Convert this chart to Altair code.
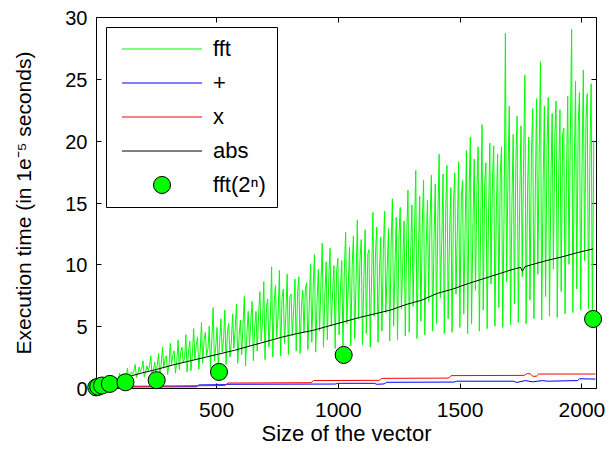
import altair as alt
import pandas as pd

# ---------------- data ----------------
series_names = ["fft", "+", "x", "abs", "fft(2ⁿ)"]
stroke_colors = ["#00ff00", "#0000ff", "#ff0000", "#000000", "#000000"]

# fft timing: peaks (sizes 8,24,...), deep troughs (13,29,...), middle values (19,35,...)
fft_hi = [
    0.25, 0.4, 0.55, 0.6, 0.85, 0.9, 1.2, 1.1,
    1.6, 1.3, 1.9, 1.7, 2.2, 1.8, 2.6, 2.1,
    2.8, 3.3, 2.6, 3.6, 3.0, 3.9, 3.3, 4.3,
    3.8, 4.8, 4.1, 5.3, 4.5, 5.0, 6.5, 4.9,
    5.6, 6.3, 5.2, 6.0, 6.8, 5.5, 7.4, 6.2,
    7.0, 6.2, 7.8, 8.6, 7.2, 9.8, 8.3, 9.5,
    8.0, 9.2, 7.6, 8.8, 9.0, 7.9, 8.5, 10.0,
    10.8, 9.6, 11.7, 10.2, 11.3, 9.9, 10.5, 10.3,
    12.6, 11.4, 12.3, 13.6, 12.0, 12.8, 11.2, 14.2,
    13.0, 12.2, 14.3, 12.9, 15.3, 13.8, 14.6, 13.5,
    16.0, 14.8, 17.6, 15.5, 16.8, 15.2, 17.2, 16.5,
    18.9, 17.3, 18.0, 16.2, 17.4, 18.3, 16.8, 19.2,
    20.3, 18.5, 19.5, 21.3, 18.2, 19.8, 19.6, 18.9,
    19.5, 28.7, 22.8, 20.5, 22.0, 21.2, 25.3, 20.3,
    22.6, 23.4, 26.4, 22.8, 23.5, 22.2, 23.2, 22.5,
    21.0, 23.6, 29.0, 24.8, 23.9, 25.7, 23.8, 24.6,
]
fft_lo = [
    0.15, 0.25, 0.3, 0.45, 0.4, 0.6, 0.55, 0.7,
    0.75, 1.1, 0.85, 1.3, 0.9, 1.4, 0.95, 1.2,
    1.0, 1.6, 1.1, 1.9, 1.2, 1.5, 2.1, 1.3,
    1.4, 2.3, 1.5, 2.0, 2.6, 1.6, 2.2, 1.7,
    2.9, 1.9, 2.5, 3.2, 2.0, 2.7, 1.8, 3.4,
    2.2, 3.0, 3.8, 2.3, 3.3, 2.5, 4.1, 2.6,
    3.6, 2.7, 4.2, 3.0, 2.8, 4.5, 3.1, 3.7,
    2.9, 4.6, 3.3, 3.9, 5.0, 3.2, 4.3, 3.4,
    5.2, 3.4, 4.0, 5.6, 3.5, 4.4, 3.3, 5.8,
    3.7, 4.6, 6.1, 3.8, 5.0, 3.9, 6.4, 4.2,
    4.5, 6.6, 4.0, 5.4, 4.3, 7.0, 4.6, 5.2,
    7.3, 4.4, 5.6, 4.5, 7.6, 4.9, 6.0, 4.4,
    5.2, 7.9, 4.6, 6.3, 4.8, 8.4, 5.0, 6.5,
    4.9, 8.6, 5.1, 6.8, 5.3, 9.0, 5.2, 7.1,
    5.6, 9.2, 5.5, 7.4, 5.8, 9.6, 5.7, 7.8,
    6.0, 10.0, 6.1, 8.0, 6.3, 10.3, 6.4, 5.6,
]
fft_mid = [
    0.2, 0.3, 0.4, 0.5, 0.6, 0.7, 0.8, 0.85,
    1.1, 1.4, 1.2, 1.6, 1.3, 1.8, 1.5, 1.9,
    2.0, 2.4, 1.9, 2.7, 2.2, 2.9, 2.4, 3.0,
    2.8, 3.5, 3.0, 3.9, 3.2, 4.1, 3.4, 3.8,
    4.0, 4.6, 3.8, 4.9, 4.3, 5.2, 4.5, 5.5,
    5.0, 6.1, 5.4, 6.6, 5.7, 7.0, 6.0, 7.3,
    6.2, 7.4, 6.5, 7.8, 6.8, 8.1, 7.0, 8.3,
    7.2, 8.6, 7.6, 9.0, 7.9, 9.4, 8.1, 9.6,
    8.3, 9.9, 8.7, 10.4, 9.0, 10.8, 9.3, 11.1,
    9.5, 11.3, 9.8, 11.8, 10.2, 12.2, 10.5, 12.5,
    10.8, 12.9, 11.2, 13.4, 11.6, 13.8, 12.0, 14.2,
    12.2, 14.5, 12.6, 15.0, 13.0, 15.4, 13.3, 15.7,
    13.5, 16.1, 13.9, 16.5, 14.2, 17.0, 14.6, 17.3,
    14.8, 17.8, 15.2, 18.3, 15.6, 18.7, 16.0, 19.0,
    16.2, 19.4, 16.6, 19.8, 17.0, 20.3, 17.4, 20.6,
    17.6, 21.0, 18.0, 21.4, 18.4, 21.8, 18.8, 20.0,
]

plus_x = [10, 420, 430, 536, 548, 990, 1000, 1150, 1160, 1190, 1200, 1478, 1488,
          1720, 1735, 1770, 1800, 1840, 1860, 1985, 1992, 2058]
plus_y = [0.08, 0.1, 0.25, 0.27, 0.3, 0.32, 0.38, 0.38, 0.3, 0.33, 0.46, 0.48, 0.55,
          0.55, 0.45, 0.6, 0.5, 0.6, 0.55, 0.6, 0.75, 0.72]

times_x = [10, 536, 548, 890, 900, 1170, 1180, 1455, 1465, 1765, 1775, 1790, 1800,
           1815, 1825, 2058]
times_y = [0.12, 0.2, 0.4, 0.43, 0.6, 0.62, 0.78, 0.8, 1.0, 1.02, 1.15, 1.15, 0.95,
           0.95, 1.13, 1.13]

abs_x = [10, 64, 128, 192, 256, 320, 384, 448, 512, 576, 640, 704, 768, 832, 896,
         960, 1024, 1088, 1152, 1216, 1280, 1344, 1408, 1472, 1536, 1600, 1664,
         1728, 1750, 1758, 1768, 1792, 1856, 1920, 1984, 2048]
abs_y = [0.15, 0.45, 0.85, 1.2, 1.5, 1.85, 2.15, 2.45, 2.75, 3.05, 3.4, 3.75, 4.1,
         4.4, 4.65, 5.0, 5.35, 5.7, 6.0, 6.3, 6.75, 7.1, 7.65, 8.0, 8.45, 8.85, 9.25,
         9.65, 9.75, 9.45, 9.8, 9.95, 10.3, 10.6, 10.95, 11.25]

pow2_x = [8, 16, 32, 64, 128, 256, 512, 1024, 2048]
pow2_y = [0.05, 0.1, 0.2, 0.33, 0.46, 0.63, 1.3, 2.67, 5.58]

x_ticks = [500, 1000, 1500, 2000]
y_ticks = [0, 5, 10, 15, 20, 25, 30]

# ---------------- tables ----------------
fft_rows = []
for i, (h, l, m) in enumerate(zip(fft_hi, fft_lo, fft_mid)):
    fft_rows.append({"n": 8 + 16 * i, "t": h})
    fft_rows.append({"n": 13 + 16 * i, "t": l})
    fft_rows.append({"n": 19 + 16 * i, "t": m})
fft_df = pd.DataFrame(fft_rows)
plus_df = pd.DataFrame({"n": plus_x, "t": plus_y})
times_df = pd.DataFrame({"n": times_x, "t": times_y})
abs_df = pd.DataFrame({"n": abs_x, "t": abs_y})
pow2_df = pd.DataFrame({"n": pow2_x, "t": pow2_y, "series": ["fft(2ⁿ)"] * len(pow2_x)})

FONT = "Liberation Sans"
x_scale = alt.Scale(domain=[7, 2060], nice=False, zero=False)
y_scale = alt.Scale(domain=[0, 30], nice=False, zero=False)

main_x_axis = alt.Axis(title="Size of the vector", values=x_ticks, format="d",
                       ticks=False, tickSize=0, domain=False, grid=False,
                       labelFont=FONT, labelFontSize=21, labelColor="black",
                       labelPadding=11, titleFont=FONT, titleFontSize=22,
                       titleFontWeight="normal", titleColor="black", titlePadding=3)
main_y_axis = alt.Axis(title="Execution time (in 1e⁻⁵ seconds)", values=y_ticks,
                       format="d", ticks=False, tickSize=0, domain=False, grid=False,
                       labelFont=FONT, labelFontSize=20, labelColor="black",
                       labelPadding=9, labelOffset=1.5, titleFont=FONT,
                       titleFontSize=21, titleFontWeight="normal", titleColor="black",
                       titlePadding=30)


def tick_axis(orient, vals):
    return alt.Axis(orient=orient, values=vals, labels=False, title=None, domain=False,
                    grid=False, ticks=True, tickSize=5, tickColor="black",
                    tickWidth=1, offset=-5)


fft_layer = alt.Chart(fft_df).mark_line(color="#00ff00", strokeWidth=1).encode(
    x=alt.X("n:Q", scale=x_scale, axis=main_x_axis),
    y=alt.Y("t:Q", scale=y_scale, axis=main_y_axis),
)
plus_layer = alt.Chart(plus_df).mark_line(color="#0000ff", strokeWidth=1).encode(
    x=alt.X("n:Q", scale=x_scale, axis=tick_axis("bottom", x_ticks)),
    y=alt.Y("t:Q", scale=y_scale, axis=tick_axis("left", y_ticks)),
)
times_layer = alt.Chart(times_df).mark_line(color="#ff0000", strokeWidth=1).encode(
    x=alt.X("n:Q", scale=x_scale, axis=tick_axis("top", x_ticks)),
    y=alt.Y("t:Q", scale=y_scale, axis=tick_axis("right", y_ticks)),
)
abs_layer = alt.Chart(abs_df).mark_line(color="#000000", strokeWidth=1).encode(
    x=alt.X("n:Q", scale=x_scale, axis=None),
    y=alt.Y("t:Q", scale=y_scale, axis=None),
)

line_path = "M-4.7,0H4.7"
legend = alt.Legend(title=None, orient="none", legendX=10, legendY=10, padding=11,
                    rowPadding=12, symbolSize=290, symbolOffset=34, labelOffset=40,
                    labelFont=FONT, labelFontSize=22, labelColor="black",
                    labelLimit=0, strokeColor="black", fillColor="white",
                    symbolStrokeWidth=1, cornerRadius=0)

pts_layer = alt.Chart(pow2_df).mark_point(filled=True, size=290, opacity=1,
                                          strokeWidth=1).encode(
    x=alt.X("n:Q", scale=x_scale, axis=None),
    y=alt.Y("t:Q", scale=y_scale, axis=None),
    stroke=alt.Stroke("series:N", scale=alt.Scale(domain=series_names,
                                                  range=stroke_colors), legend=legend),
    fill=alt.Fill("series:N", scale=alt.Scale(domain=series_names,
                                              range=["rgba(0,0,0,0)"] * 4 + ["#00ff00"]),
                  legend=legend),
    shape=alt.Shape("series:N", scale=alt.Scale(domain=series_names,
                                                range=[line_path] * 4 + ["circle"]),
                    legend=legend),
)

chart = alt.layer(fft_layer, plus_layer, times_layer, abs_layer, pts_layer).resolve_axis(
    x="independent", y="independent"
).properties(
    width=500, height=371,
    autosize=alt.AutoSizeParams(type="none"),
    padding={"left": 88, "top": 9, "right": 10, "bottom": 57},
    background="white",
).configure_view(stroke="black", strokeWidth=1)

chart.save("out.html", embed_options={"renderer": "svg", "actions": False})
